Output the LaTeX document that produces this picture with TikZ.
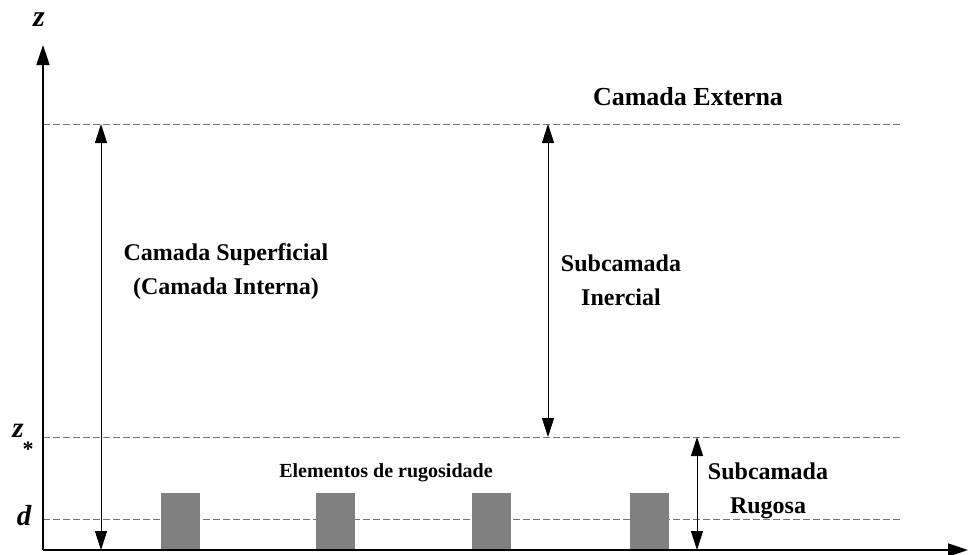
\documentclass[tikz,border=0pt]{standalone}
\usepackage{fontspec}
\setmainfont{Liberation Serif}
\usetikzlibrary{arrows.meta}
\begin{document}
\begin{tikzpicture}[x=1pt,y=-1pt,
  dashline/.style={draw=black!55,line width=1pt,dash pattern=on 7pt off 3pt},
  axisline/.style={draw=black,line width=1.6pt,-{Triangle[width=13pt,length=20pt]}},
  dimline/.style={draw=black,line width=0.9pt,{Triangle[width=12pt,length=19pt]}-{Triangle[width=12pt,length=19pt]}},
  rough/.style={fill=gray,draw=none},
  lbl/.style={font=\bfseries\fontsize{24}{34}\selectfont,align=center,inner sep=0pt},
  small/.style={font=\bfseries\fontsize{20}{24}\selectfont,inner sep=0pt},
  axlbl/.style={font=\bfseries\itshape\fontsize{29}{30}\selectfont,inner sep=0pt}]
\useasboundingbox (0,0) rectangle (968,554);
% coordinates
\coordinate (O) at (43,550);
\coordinate (ytop) at (43,45);
\coordinate (xend) at (968,550);
\coordinate (t1) at (43,124); \coordinate (t2) at (900,124);
\coordinate (z1) at (43,437); \coordinate (z2) at (900,437);
\coordinate (d1) at (43,519); \coordinate (d2) at (900,519);
\coordinate (a1t) at (101,124); \coordinate (a1b) at (101,550);
\coordinate (a2t) at (548,124); \coordinate (a2b) at (548,437);
\coordinate (a3t) at (697,437); \coordinate (a3b) at (697,550);
% dashed levels
\draw[dashline] (t1) -- (t2);
\draw[dashline] (z1) -- (z2);
\draw[dashline] (d1) -- (d2);
% roughness elements
\fill[rough] (161,493) rectangle (200,550);
\fill[rough] (316,493) rectangle (355,550);
\fill[rough] (472,493) rectangle (511,550);
\fill[rough] (630,493) rectangle (669,550);
% axes
\draw[axisline] (O) -- (ytop);
\draw[axisline] (O) -- (xend);
% dimension arrows
\draw[dimline] (a1t) -- (a1b);
\draw[dimline] (a2t) -- (a2b);
\draw[dimline] (a3t) -- (a3b);
% labels
\node[axlbl,font=\bfseries\itshape\fontsize{30}{30}\selectfont,anchor=base] (zl) at (39,27) {z};
\node[axlbl,anchor=base] (zs) at (18,437) {z};
\node[font=\bfseries\fontsize{22}{24}\selectfont,inner sep=0pt] (st) at (28,449) {*};
\node[axlbl,anchor=base] (dl) at (24,525) {d};
\node[lbl,font=\bfseries\fontsize{26}{30}\selectfont] (ext) at (688,97) {Camada Externa};
\node[lbl] (sup) at (226,272) {Camada Superficial\\(Camada Interna)};
\node[lbl] (iner) at (621,280) {Subcamada\\Inercial};
\node[small] (el) at (386,473) {Elementos de rugosidade};
\node[lbl] (rug) at (768,491) {Subcamada\\Rugosa};
\end{tikzpicture}
\end{document}
